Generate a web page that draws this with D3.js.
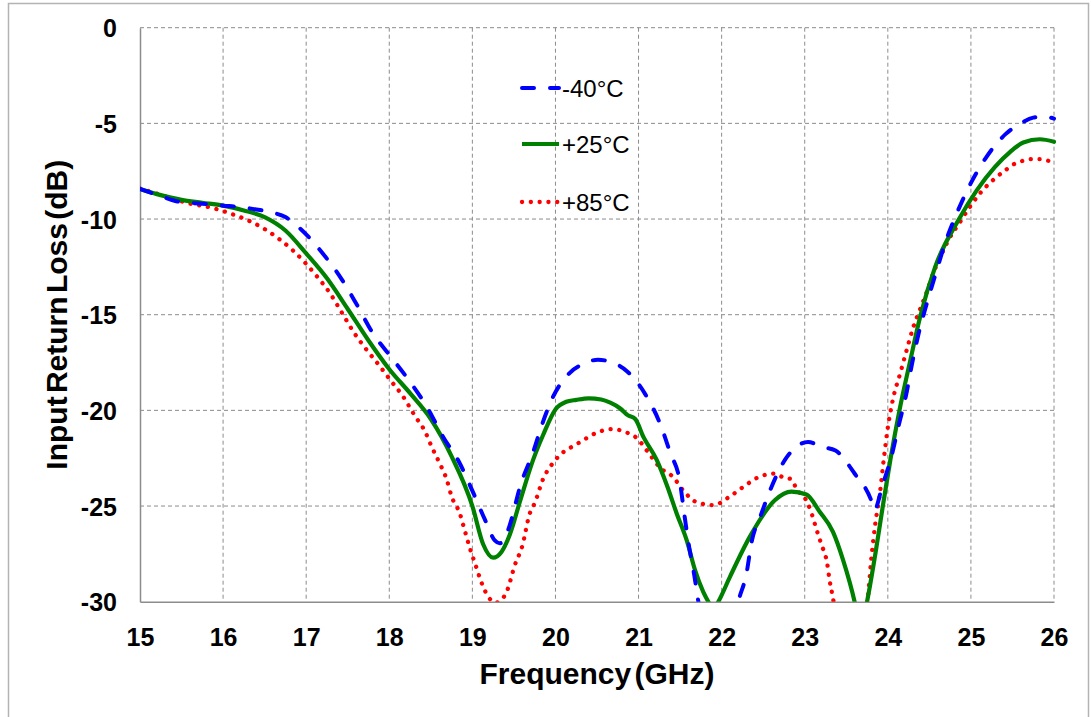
<!DOCTYPE html>
<html>
<head>
<meta charset="utf-8">
<script src="https://cdn.jsdelivr.net/npm/d3@7"></script>
<style>
  html, body { margin: 0; padding: 0; background: #fff; }
  svg { display: block; font-family: "Liberation Sans", Arial, sans-serif; }
</style>
</head>
<body>
<svg id="chart" width="1091" height="717"></svg>
<script>
// ---------- data ----------
const xTicks = [15, 16, 17, 18, 19, 20, 21, 22, 23, 24, 25, 26];
const yTicks = [0, -5, -10, -15, -20, -25, -30];
const seriesNames = ["-40°C", "+25°C", "+85°C"];

const freqM40 = [15.0,15.25,15.45,15.75,16.0,16.2,16.4,16.6,16.75,16.92,17.2,17.42,17.6,17.8,18.02,18.24,18.45,18.65,18.84,19.01,19.15,19.27,19.33,19.4,19.45,19.58,19.73,19.85,19.97,20.17,20.35,20.51,20.65,20.86,21.08,21.25,21.38,21.5,21.55,21.6,21.67,21.72,21.8,21.95,22.1,22.2,22.3,22.36,22.47,22.6,22.76,22.9,23.04,23.2,23.37,23.6,23.8,23.84,23.93,24.05,24.13,24.22,24.29,24.37,24.47,24.58,24.69,24.83,24.99,25.18,25.42,25.6,25.75,25.88,26.0];
const rlM40   = [-8.43,-8.8,-9.08,-9.2,-9.3,-9.37,-9.5,-9.67,-9.9,-10.47,-11.8,-13.1,-14.4,-15.95,-17.2,-18.45,-19.8,-21.4,-22.7,-24.3,-25.7,-26.8,-26.95,-26.6,-26.0,-23.9,-22.2,-20.6,-19.3,-18.05,-17.55,-17.35,-17.45,-17.95,-19.15,-20.6,-22.2,-23.8,-25.4,-26.9,-28.6,-30.0,-32.0,-34.0,-32.0,-30.0,-28.5,-26.9,-25.5,-24.0,-22.6,-21.9,-21.65,-21.9,-22.1,-23.3,-24.7,-25.2,-24.0,-22.3,-20.8,-19.2,-17.6,-16.0,-14.4,-12.8,-11.25,-9.7,-8.2,-6.8,-5.55,-5.0,-4.7,-4.65,-4.75];

const freqP25 = [15.0,15.25,15.5,15.75,16.0,16.25,16.5,16.75,17.0,17.25,17.5,17.75,18.0,18.25,18.5,18.75,19.0,19.13,19.25,19.35,19.45,19.57,19.73,19.85,20.0,20.13,20.25,20.4,20.55,20.66,20.78,20.87,20.96,21.06,21.22,21.34,21.46,21.58,21.68,21.78,21.84,21.9,21.96,22.1,22.34,22.64,22.84,23.02,23.18,23.34,23.46,23.6,23.67,23.75,23.85,23.94,24.03,24.14,24.27,24.39,24.57,24.85,25.07,25.29,25.47,25.63,25.83,26.0];
const rlP25   = [-8.43,-8.75,-9.0,-9.15,-9.3,-9.55,-9.9,-10.6,-11.8,-13.1,-14.7,-16.35,-17.85,-19.1,-20.45,-22.4,-25.0,-27.0,-27.7,-27.4,-26.5,-24.8,-22.6,-21.3,-19.95,-19.55,-19.45,-19.37,-19.43,-19.6,-19.9,-20.25,-20.45,-21.4,-22.6,-23.9,-25.4,-26.8,-28.35,-29.5,-30.0,-30.4,-30.0,-28.7,-26.6,-24.7,-24.25,-24.4,-25.3,-26.35,-27.8,-30.0,-31.5,-30.0,-27.5,-25.0,-22.6,-20.0,-17.4,-15.1,-12.5,-10.05,-8.5,-7.27,-6.5,-6.0,-5.83,-5.96];

const freqP85 = [15.0,15.26,15.58,15.88,16.08,16.29,16.48,16.66,16.83,16.99,17.13,17.29,17.43,17.57,17.73,17.87,18.01,18.17,18.31,18.43,18.51,18.61,18.69,18.75,18.85,18.91,18.97,19.04,19.11,19.2,19.28,19.37,19.42,19.51,19.6,19.69,19.75,19.85,19.97,20.09,20.2,20.3,20.48,20.68,20.88,20.98,21.1,21.26,21.42,21.54,21.7,21.9,22.1,22.26,22.44,22.64,22.74,22.84,22.9,23.03,23.08,23.14,23.2,23.27,23.3,23.34,23.4,23.55,23.7,23.76,23.8,23.85,23.9,23.95,24.0,24.06,24.15,24.23,24.31,24.39,24.47,24.55,24.63,24.73,24.87,24.99,25.11,25.27,25.43,25.53,25.63,25.73,25.83,25.95,26.0];
const rlP85   = [-8.4,-8.75,-9.17,-9.43,-9.7,-10.05,-10.47,-11.0,-11.6,-12.3,-13.0,-13.9,-14.9,-15.9,-16.85,-17.6,-18.4,-19.3,-20.3,-21.1,-21.9,-22.8,-23.6,-24.5,-25.4,-26.3,-27.2,-28.1,-29.0,-29.8,-30.05,-29.8,-29.4,-28.1,-27.1,-25.4,-24.85,-23.6,-22.75,-22.2,-21.9,-21.65,-21.2,-20.98,-21.2,-21.45,-22.1,-23.0,-23.5,-24.2,-24.8,-24.95,-24.5,-24.0,-23.5,-23.3,-23.5,-23.6,-24.1,-24.8,-25.35,-26.2,-27.0,-28.0,-28.9,-29.8,-31.5,-33.0,-31.5,-29.8,-27.8,-25.9,-24.5,-22.6,-20.9,-19.45,-18.05,-16.8,-15.6,-14.7,-13.8,-12.8,-12.0,-11.1,-10.15,-9.35,-8.65,-7.95,-7.4,-7.1,-6.95,-6.87,-6.87,-6.97,-7.0];

// ---------- layout ----------
const svg = d3.select("#chart");
const L = 140, R = 1054, T = 27.7, B = 601.7;
const x = d3.scaleLinear().domain([15, 26]).range([L, R]);
const y = d3.scaleLinear().domain([-30, 0]).range([B, T]);

// outer border
svg.append("rect").attr("x", 8.5).attr("y", 3.5).attr("width", 1080).attr("height", 720)
  .attr("fill", "none").attr("stroke", "#b3b3b3").attr("stroke-width", 1.5);

const gridColor = "#8c8c8c";
// grid lines
svg.append("g").selectAll("line").data(yTicks.filter(d => d !== -30)).join("line")
  .attr("x1", L).attr("x2", R).attr("y1", d => y(d)).attr("y2", d => y(d))
  .attr("stroke", gridColor).attr("stroke-width", 1).attr("stroke-dasharray", "4,3");
svg.append("g").selectAll("line").data(xTicks.filter(d => d !== 15)).join("line")
  .attr("x1", d => x(d)).attr("x2", d => x(d)).attr("y1", T).attr("y2", B)
  .attr("stroke", gridColor).attr("stroke-width", 1).attr("stroke-dasharray", "4,3");

// axes (solid left & bottom)
const xAxis = d3.axisBottom(x).tickValues(xTicks).tickSize(0).tickPadding(0);
const yAxis = d3.axisLeft(y).tickValues(yTicks).tickSize(0).tickPadding(0);
const gx = svg.append("g").attr("transform", `translate(0,${B})`).call(xAxis);
const gy = svg.append("g").attr("transform", `translate(${L},0)`).call(yAxis);
[gx, gy].forEach(g => {
  g.select(".domain").attr("stroke", gridColor).attr("stroke-width", 1.5);
  g.selectAll("text").attr("fill", "#000").style("font-size", "25px").style("font-weight", "bold")
    .style("font-family", "'Liberation Sans', Arial, sans-serif");
});
gx.selectAll("text").attr("dy", null).attr("y", 44).text(d => String(d));
gy.selectAll("text").attr("x", -23).attr("dy", "0.36em").text(d => String(d));

// axis titles
svg.append("text").attr("x", (L + R) / 2).attr("y", 684).attr("text-anchor", "middle")
  .style("font-size", "30px").style("font-weight", "bold").attr("word-spacing", "-5")
  .text("Frequency (GHz)");
svg.append("text").attr("transform", `translate(67,${(T + B) / 2}) rotate(-90)`).attr("text-anchor", "middle")
  .style("font-size", "30px").style("font-weight", "bold").attr("word-spacing", "-5")
  .text("Input Return Loss (dB)");

// clip
svg.append("clipPath").attr("id", "plotclip").append("rect")
  .attr("x", L).attr("y", T - 10).attr("width", R - L + 2).attr("height", B - T + 10);

const series = [
  { name: seriesNames[0], f: freqM40, v: rlM40, color: "#0000ff", dash: "12,16", width: 4 },
  { name: seriesNames[1], f: freqP25, v: rlP25, color: "#008000", dash: null, width: 4.2 },
  { name: seriesNames[2], f: freqP85, v: rlP85, color: "#ff0000", dash: "0.1,8.7", width: 4.3 }
];
const line = d3.line().x(d => x(d[0])).y(d => y(d[1])).curve(d3.curveMonotoneX);
const gLines = svg.append("g").attr("clip-path", "url(#plotclip)");
[series[2], series[1], series[0]].forEach(s => {
  gLines.append("path").datum(s.f.map((f, i) => [f, s.v[i]]))
    .attr("d", line).attr("fill", "none").attr("stroke", s.color).attr("stroke-width", s.width)
    .attr("stroke-linecap", "round").attr("stroke-linejoin", "round")
    .attr("stroke-dasharray", s.dash);
});

// legend
const legY = [88, 144, 202];
series.forEach((s, i) => {
  svg.append("line").attr("x1", 522).attr("x2", 559).attr("y1", legY[i]).attr("y2", legY[i])
    .attr("stroke", s.color).attr("stroke-width", s.width).attr("stroke-linecap", s.dash ? "round" : "butt")
    .attr("stroke-dasharray", s.dash);
  svg.append("text").attr("x", 562).attr("y", legY[i]).attr("dy", "0.36em")
    .style("font-size", "24px").text(s.name);
});
</script>
</body>
</html>
